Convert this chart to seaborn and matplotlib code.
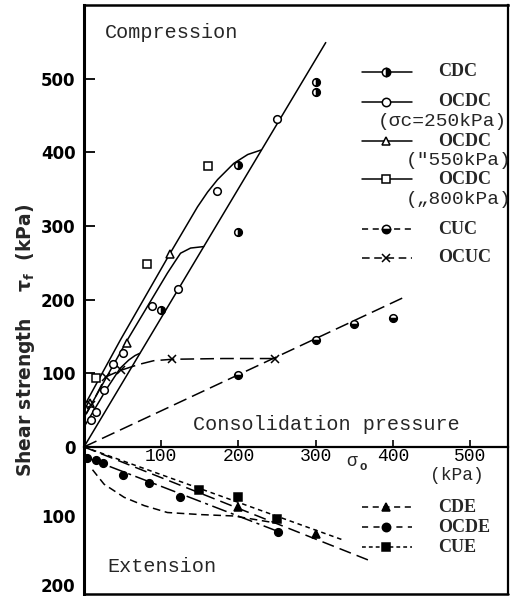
import numpy as np
import matplotlib
matplotlib.use("Agg")
import matplotlib.pyplot as plt
from matplotlib.lines import Line2D
import seaborn as sns

# ---------------- data (kPa) ----------------
# compression: measured points
cdc_x = [100, 200, 200, 300, 300]
cdc_y = [186, 292, 383, 482, 495]
ocdc250_x = [9, 15, 26, 38, 50, 88, 122, 172, 250]
ocdc250_y = [36, 48, 77, 113, 127, 192, 215, 347, 445]
ocdc550_x = [8, 56, 111]
ocdc550_y = [60, 141, 262]
ocdc800_x = [16, 82, 161]
ocdc800_y = [93, 248, 381]
cuc_x = [200, 300, 350, 400]
cuc_y = [97, 145, 167, 175]
ocuc_x = [9.5, 28, 47.5, 114, 247]
ocuc_y = [57, 95, 104, 119, 120]

# compression: fitted lines / curves
cdc_line_x = [0, 313]
cdc_line_y = [0, 549]
oc800_curve_x = [0, 47, 111, 147, 160, 173, 194, 212, 229]
oc800_curve_y = [55, 145, 262, 326, 346, 363, 385, 397, 403]
oc550_curve_x = [0, 56, 108, 118, 125, 138, 155]
oc550_curve_y = [40, 145, 236, 252, 263, 270, 272]
oc250_curve_x = [0, 30, 47, 58, 66, 72]
oc250_curve_y = [27, 80, 107, 118, 124, 127]
ocuc_curve_x = [3, 9.5, 28, 47.5, 71, 90, 114, 180, 247]
ocuc_curve_y = [45, 57, 95, 104, 112, 117, 119, 120, 120]
cuc_line_x = [0, 412]
cuc_line_y = [0, 202]

# extension (shear strength magnitudes, drawn below zero)
cde_x = [200, 300]
cde_v = [87, 126]
ocde_x = [4, 15, 25, 50, 84, 124, 251]
ocde_v = [16, 19, 23, 41, 52, 73, 123]
cue_x = [149, 199, 250]
cue_v = [62, 73, 104]
cde_line_x = [0, 373]
cde_line_v = [0, 166]
cue_line_x = [0, 336]
cue_line_v = [0, 135]
ocde_line_x = [0, 255]
ocde_line_v = [14, 124]
ocde_curve_x = [11, 26, 52, 78, 108, 151, 194, 242]
ocde_curve_v = [33, 54, 73, 85, 95, 98, 100, 109]

x_ticks = [100, 200, 300, 400, 500]
y_ticks_comp = [0, 100, 200, 300, 400, 500]
y_ticks_ext = [100, 200]

# ---------------- style ----------------
sns.set_style("white")
plt.rcParams["font.family"] = ["DejaVu Sans"]
MONO = "Liberation Mono"
SERIF = "Liberation Serif"

fig = plt.figure(figsize=(5.16, 5.96), dpi=100)
ax = fig.add_axes([84 / 516, 2 / 596, 424 / 516, 589 / 596])

k_ext = 0.69 / 0.736


def fwd(y):
    y = np.asarray(y, dtype=float)
    return np.where(y >= 0, y, y * k_ext)


def inv(y):
    y = np.asarray(y, dtype=float)
    return np.where(y >= 0, y, y / k_ext)


ax.set_yscale("function", functions=(fwd, inv))

LW = 1.1


def curve(x, y, ls="-"):
    sns.lineplot(x=x, y=y, ax=ax, estimator=None, sort=False, color="k",
                 lw=LW, linestyle=ls)


def points(x, y, marker, size=5.5, **kw):
    kw.setdefault("markerfacecolor", "white")
    sns.lineplot(x=x, y=y, ax=ax, estimator=None, sort=False, color="k",
                 linestyle="none", marker=marker, markersize=size,
                 markeredgecolor="k", markeredgewidth=1.1, **kw)


neg = lambda v: [-a for a in v]

# compression curves
curve(cdc_line_x, cdc_line_y)
curve(oc800_curve_x, oc800_curve_y)
curve(oc550_curve_x, oc550_curve_y)
curve(oc250_curve_x, oc250_curve_y)
curve(ocuc_curve_x, ocuc_curve_y, (0, (9, 4)))
curve(cuc_line_x, cuc_line_y, (0, (9, 4)))

# extension curves
curve(cde_line_x, neg(cde_line_v), (0, (8, 4)))
curve(cue_line_x, neg(cue_line_v), (0, (3, 2.5)))
curve(ocde_line_x, neg(ocde_line_v), (0, (10, 3, 2, 3)))
curve(ocde_curve_x, neg(ocde_curve_v), (0, (5, 3)))

# compression points
points(cdc_x, cdc_y, "o", fillstyle="right", markerfacecoloralt="white",
       markerfacecolor="k")
points(ocdc250_x, ocdc250_y, "o")
points(ocdc550_x, ocdc550_y, "^")
points(ocdc800_x, ocdc800_y, "s")
points(cuc_x, cuc_y, "o", fillstyle="bottom", markerfacecoloralt="white",
       markerfacecolor="k")
points(ocuc_x, ocuc_y, "x", size=6)

# extension points
points(cde_x, neg(cde_v), "^", markerfacecolor="k")
points(ocde_x, neg(ocde_v), "o", markerfacecolor="k")
points(cue_x, neg(cue_v), "s", markerfacecolor="k")

# ---------------- axes ----------------
ax.set_xlim(0, 549)
ax.set_ylim(-213, 600)

for s in ["left", "top", "right"]:
    ax.spines[s].set_color("k")
ax.spines["left"].set_linewidth(2.2)
ax.spines["top"].set_linewidth(1.8)
ax.spines["right"].set_linewidth(1.6)
ax.spines["bottom"].set_position(("data", 0))
ax.spines["bottom"].set_linewidth(1.6)
ax.spines["bottom"].set_color("k")
ax.add_line(Line2D([0, 1], [0, 0], transform=ax.transAxes, color="k",
                   lw=1.8, clip_on=False))

ax.set_xticks(x_ticks)
ax.set_xticklabels([str(t) for t in x_ticks], fontfamily=MONO, fontsize=13)
ax.tick_params(axis="x", direction="in", length=5, width=1.2, pad=1,
               bottom=True, colors="k")

ax.set_yticks(y_ticks_comp)
ax.set_yticklabels([str(t) for t in y_ticks_comp], fontweight="bold",
                   fontsize=12)
ax.set_yticks([-t for t in y_ticks_ext], minor=True)
ax.set_yticklabels([str(t) for t in y_ticks_ext], minor=True,
                   fontweight="bold", fontsize=12)
ax.tick_params(axis="y", which="major", direction="in", length=8, width=1.3,
               pad=6, left=True, colors="k")
ax.tick_params(axis="y", which="minor", length=0, pad=6, left=True,
               colors="k")
ax.set_xlabel("")

ax.set_ylabel("Shear strength    \u03c4$_\\mathregular{f}$  (kPa)",
              fontweight="bold", fontsize=13.5, va="center")
ax.yaxis.set_label_coords(-0.137, 0.43)

# ---------------- annotations ----------------
ax.text(0.0495, 0.954, "Compression", transform=ax.transAxes,
        fontfamily=MONO, fontsize=14.5, va="center", ha="left")
ax.text(0.257, 0.287, "Consolidation pressure", transform=ax.transAxes,
        fontfamily=MONO, fontsize=14.5, va="center", ha="left")
ax.text(0.054, 0.046, "Extension", transform=ax.transAxes,
        fontfamily=MONO, fontsize=14.5, va="center", ha="left")
ax.text((352 - 84) / 424, (594 - 461) / 589, "\u03c3", transform=ax.transAxes,
        fontfamily=MONO, fontsize=13, va="center", ha="center")
ax.text((363 - 84) / 424, (594 - 467) / 589, "o", transform=ax.transAxes,
        fontfamily=MONO, fontsize=9, va="center", ha="center",
        fontweight="bold")
ax.text((457 - 84) / 424, (594 - 475) / 589, "(kPa)", transform=ax.transAxes,
        fontfamily=MONO, fontsize=13, va="center", ha="center")

# ---------------- legends (drawn by hand) ----------------
def ax_xy(px, py):
    return (px - 84) / 424, (594 - py) / 589


def handle(py, ls, marker, **kw):
    x0, y = ax_xy(362, py)
    x1, _ = ax_xy(412, py)
    xm, _ = ax_xy(386, py)
    ax.add_line(Line2D([x0, x1], [y, y], transform=ax.transAxes, color="k",
                       lw=LW, linestyle=ls, clip_on=False))
    kw.setdefault("markerfacecolor", "white")
    ax.add_line(Line2D([xm], [y], transform=ax.transAxes, color="k",
                       linestyle="none", marker=marker, markersize=6,
                       markeredgecolor="k", markeredgewidth=1.1,
                       clip_on=False, **kw))


def label(px, py, txt, family=SERIF, weight="bold", size=13):
    x, y = ax_xy(px, py)
    ax.text(x, y, txt, transform=ax.transAxes, fontfamily=family,
            fontweight=weight, fontsize=size, va="center", ha="left",
            clip_on=False)


comp_entries = [
    (72, "-", "o", dict(fillstyle="right", markerfacecolor="k",
                        markerfacecoloralt="white"), "CDC"),
    (102, "-", "o", {}, "OCDC"),
    (141, "-", "^", {}, "OCDC"),
    (179, "-", "s", {}, "OCDC"),
    (229, (0, (4, 3)), "o", dict(fillstyle="bottom", markerfacecolor="k",
                                 markerfacecoloralt="white"), "CUC"),
    (258, (0, (5, 3)), "x", {}, "OCUC"),
]
for py, ls, m, kw, txt in comp_entries:
    handle(py, ls, m, **kw)
    label(438, py, txt)

label(378, 122, "(\u03c3c=250kPa)", family=MONO, weight="normal", size=14)
label(406, 161, "(\"550kPa)", family=MONO, weight="normal", size=14)
label(406, 199, "(\u201e800kPa)", family=MONO, weight="normal", size=14)

ext_entries = [
    (507, (0, (4, 3)), "^", "CDE"),
    (527, (0, (4, 3.5)), "o", "OCDE"),
    (547, (0, (2.5, 2)), "s", "CUE"),
]
for py, ls, m, txt in ext_entries:
    handle(py, ls, m, markerfacecolor="k")
    label(438, py, txt)

fig.savefig("out.png", dpi=100)
